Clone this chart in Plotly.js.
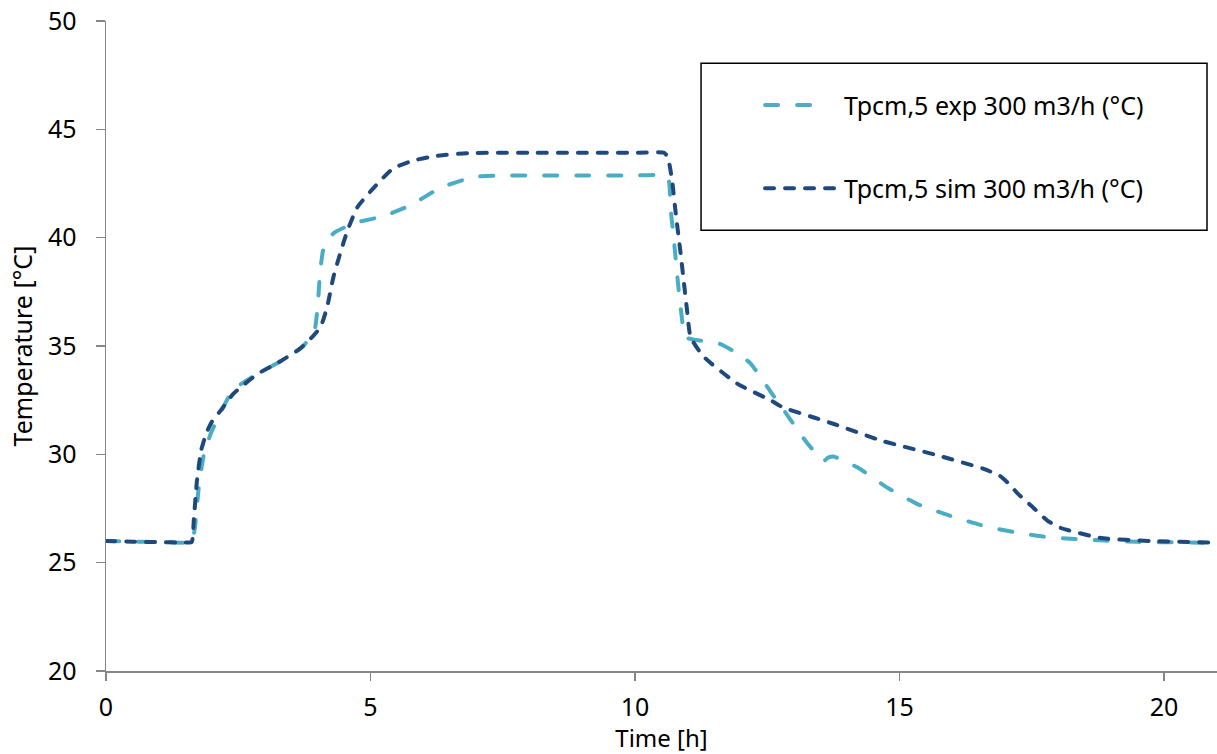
<!DOCTYPE html>
<html>
<head>
<meta charset="utf-8">
<script src="https://cdn.plot.ly/plotly-3.0.1.min.js"></script>
<style>
  html, body { margin: 0; padding: 0; background: #fff; }
  #chart { width: 1217px; height: 754px; }
</style>
</head>
<body>
<div id="chart"></div>
<script>
// ---- Data ----
const expName = "Tpcm,5 exp 300 m3/h (°C)";
const simName = "Tpcm,5 sim 300 m3/h (°C)";

const expTime = [0, 0.5, 1.0, 1.5, 1.62, 1.68, 1.75, 1.85, 1.98, 2.16, 2.41, 2.86, 3.3, 3.68, 3.93, 4.0, 4.05, 4.12, 4.21, 4.3, 4.68, 5.25, 5.76, 6.32, 6.95, 7.46, 8, 9, 10, 10.55, 10.64, 10.67, 10.73, 10.82, 10.9, 10.95, 11.1, 11.6, 11.9, 12.18, 12.56, 12.88, 13.26, 13.57, 13.65, 13.75, 14.2, 14.77, 15.34, 15.96, 16.59, 17.23, 17.73, 18.23, 19.5, 20.5, 21];
const expTemp = [26.0, 25.97, 25.95, 25.92, 25.92, 26.6, 28.4, 30.0, 30.95, 31.9, 33.0, 33.7, 34.3, 34.9, 35.6, 36.8, 38.5, 39.6, 39.9, 40.2, 40.66, 41.0, 41.5, 42.3, 42.8, 42.87, 42.87, 42.87, 42.87, 42.87, 42.6, 41.4, 40.0, 37.7, 36.0, 35.4, 35.3, 35.1, 34.7, 34.2, 32.9, 31.8, 30.5, 29.7, 29.85, 29.9, 29.4, 28.46, 27.7, 27.16, 26.7, 26.38, 26.2, 26.1, 25.96, 25.93, 25.92];

const simTime = [0, 0.5, 1.0, 1.5, 1.62, 1.66, 1.72, 1.8, 1.9, 2.0, 2.16, 2.41, 2.86, 3.3, 3.68, 3.93, 4.06, 4.18, 4.3, 4.43, 4.56, 4.75, 5.06, 5.43, 5.8, 6.2, 6.83, 8, 9, 10, 10.55, 10.62, 10.7, 10.77, 10.86, 10.99, 11.05, 11.3, 11.94, 12.56, 12.8, 13.38, 13.76, 14.7, 15.65, 16.59, 16.9, 17.04, 17.23, 17.5, 17.8, 18.05, 18.8, 19.75, 21];
const simTemp = [26.0, 25.97, 25.95, 25.93, 25.95, 27.0, 28.8, 30.2, 31.0, 31.5, 32.0, 32.8, 33.7, 34.3, 34.9, 35.5, 35.9, 36.8, 38.2, 39.3, 40.3, 41.4, 42.3, 43.2, 43.55, 43.76, 43.9, 43.92, 43.92, 43.92, 43.92, 43.7, 42.65, 41.1, 39.3, 36.5, 35.4, 34.5, 33.25, 32.5, 32.16, 31.7, 31.4, 30.6, 30.0, 29.33, 29.0, 28.7, 28.2, 27.6, 26.93, 26.6, 26.14, 26.0, 25.92];

const xTicks = [0, 5, 10, 15, 20];
const yTicks = [20, 25, 30, 35, 40, 45, 50];

const expColor = "#4BACC6";
const simColor = "#1F497D";
const axisColor = "#868686";
const FONT = "Noto Sans, Open Sans, sans-serif";
const FS = 25;

const traces = [
  { x: expTime, y: expTemp, name: expName, type: "scatter", mode: "lines",
    line: { color: expColor, width: 4, dash: "13px,19px", shape: "spline", smoothing: 0.5 } },
  { x: simTime, y: simTemp, name: simName, type: "scatter", mode: "lines",
    line: { color: simColor, width: 4, dash: "9px,11px", shape: "spline", smoothing: 0.5 } }
];

// manual legend (box, samples, labels) in paper coordinates
const legendShapes = [
  { type: "rect", xref: "paper", yref: "paper", x0: 0.5356, x1: 0.991, y0: 0.678, y1: 0.935,
    line: { color: "#000", width: 1.5 }, fillcolor: "rgba(0,0,0,0)" },
  { type: "line", xref: "paper", yref: "paper", x0: 0.5932, x1: 0.639, y0: 0.8706, y1: 0.8706,
    line: { color: expColor, width: 4, dash: "13px,19px" } },
  { type: "line", xref: "paper", yref: "paper", x0: 0.5932, x1: 0.6562, y0: 0.7427, y1: 0.7427,
    line: { color: simColor, width: 4, dash: "9px,11px" } }
];
const legendLabels = [
  { xref: "paper", yref: "paper", x: 0.6625, y: 0.8706, xanchor: "left", yanchor: "middle",
    text: expName, showarrow: false, font: { family: FONT, size: FS, color: "#000" } },
  { xref: "paper", yref: "paper", x: 0.6625, y: 0.7427, xanchor: "left", yanchor: "middle",
    text: simName, showarrow: false, font: { family: FONT, size: FS, color: "#000" } }
];

const layout = {
  width: 1217, height: 754,
  margin: { l: 106, r: 0, t: 21, b: 83 },
  paper_bgcolor: "#fff", plot_bgcolor: "#fff",
  showlegend: false,
  font: { family: FONT, size: FS, color: "#000" },
  xaxis: {
    range: [0, 21], tickvals: xTicks, ticktext: xTicks.map(String),
    showgrid: false, zeroline: false, showline: true, linecolor: axisColor, linewidth: 1.5,
    ticks: "outside", ticklen: 8, tickwidth: 1.5, tickcolor: axisColor,
    ticklabelstandoff: 5,
    tickfont: { family: FONT, size: FS, color: "#000" },
    title: { text: "Time [h]", font: { family: FONT, size: 24, color: "#000" }, standoff: 2 }
  },
  yaxis: {
    range: [20, 50], tickvals: yTicks, ticktext: yTicks.map(String),
    showgrid: false, zeroline: false, showline: true, linecolor: axisColor, linewidth: 1.5,
    ticks: "outside", ticklen: 9, tickwidth: 1.5, tickcolor: axisColor,
    ticklabelstandoff: 14,
    tickfont: { family: FONT, size: FS, color: "#000" },
    title: { text: "Temperature [°C]", font: { family: FONT, size: FS, color: "#000" }, standoff: 8 }
  },
  shapes: legendShapes,
  annotations: legendLabels
};

Plotly.newPlot("chart", traces, layout, { displayModeBar: false, staticPlot: true }).then(function () {
  document.querySelectorAll(".shapelayer path").forEach(function (p) {
    p.style.strokeLinecap = "round";
  });
  document.querySelectorAll(".scatterlayer path.js-line").forEach(function (p) {
    p.style.strokeLinecap = "round";
  });
});
</script>
</body>
</html>
